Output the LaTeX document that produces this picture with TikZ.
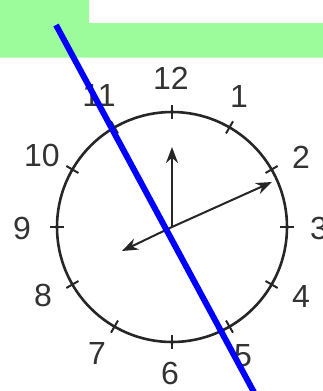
\documentclass[tikz,border=0pt]{standalone}
\usepackage{fontspec}
\setmainfont{Liberation Sans}
\usetikzlibrary{arrows.meta}
\definecolor{lgreen}{RGB}{156,252,156}
\begin{document}
\begin{tikzpicture}[x=1pt,y=-1pt,
  num/.style={font=\fontsize{32}{32}\selectfont, inner sep=0pt, text=black!80},
  hand/.style={line width=2pt, black!85, -{Stealth[length=16pt,width=12pt]}}]
\useasboundingbox (0,0) rectangle (323,391);
\fill[lgreen] (0,0) -- (89,0) -- (89,23) -- (323,23) -- (323,57.5) -- (0,57.5) -- cycle;
\coordinate (c) at (172,227);
\draw[line width=2.6pt, black!85] (c) circle[radius=115];
\foreach \h in {1,...,12}{
  \draw[line width=2pt, black!85] ([shift={(90-30*\h:108)}]c) -- ([shift={(90-30*\h:122)}]c);
}
\node[num] (n12) at (171,78) {12};
\node[num] (n1) at (239,96) {1};
\node[num] (n2) at (301,157) {2};
\node[num] (n3) at (319,228) {3};
\node[num] (n4) at (301,296) {4};
\node[num] (n5) at (243,356) {5};
\node[num] (n6) at (170,373) {6};
\node[num] (n7) at (97,353) {7};
\node[num] (n8) at (43,295) {8};
\node[num] (n9) at (22,228) {9};
\node[num] (n10) at (42,155) {10};
\node[num] (n11) at (99,95) {11};
\coordinate (mtip) at (172,147);
\coordinate (htip) at (272,182);
\coordinate (htail) at (122,251);
\draw[hand] (c) -- (mtip);
\draw[hand] (c) -- (htip);
\draw[hand] (c) -- (htail);
\coordinate (b1) at (56,25);
\coordinate (b2) at (256,396);
\draw[blue, line width=6pt] (b1) -- (b2);
\end{tikzpicture}
\end{document}
